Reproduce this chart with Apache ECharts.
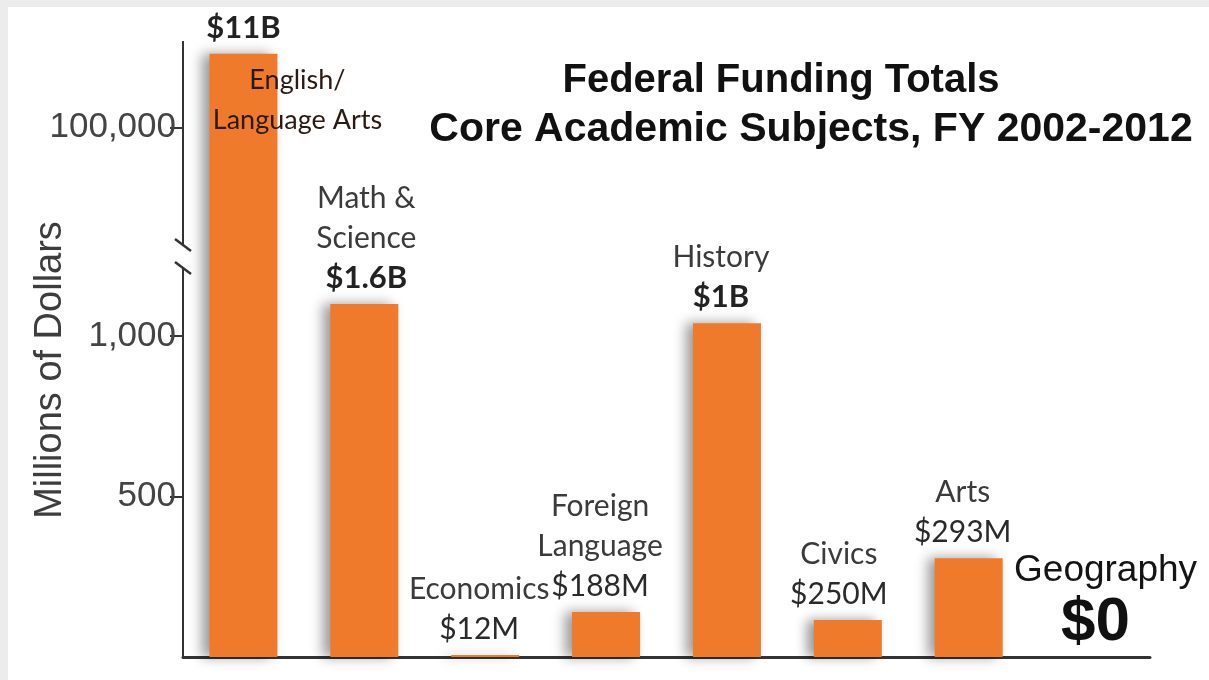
<!DOCTYPE html>
<html>
<head>
<meta charset="utf-8">
<script src="https://cdn.jsdelivr.net/npm/echarts@6/dist/echarts.min.js"></script>
<style>
  html, body { margin: 0; padding: 0; width: 1209px; height: 680px; overflow: hidden; background: #ececec; }
  #card { position: absolute; left: 8px; top: 7px; right: 0; bottom: 0; background: #ffffff; }
  #chart { position: absolute; left: 0; top: 0; width: 1209px; height: 680px; }
</style>
</head>
<body>
<div id="card"></div>
<div id="chart"></div>
<script>
// ---- data (millions of dollars) ----
const categories = ['English/Language Arts', 'Math & Science', 'Economics', 'Foreign Language', 'History', 'Civics', 'Arts', 'Geography'];
const labelNames = ['English/\nLanguage Arts', 'Math &\nScience', 'Economics', 'Foreign\nLanguage', 'History', 'Civics', 'Arts', 'Geography'];
const amountLabels = ['$11B', '$1.6B', '$12M', '$188M', '$1B', '$250M', '$293M', '$0'];
const barHeights = [100230, 1100, 6, 140, 1040, 115, 308, 0];
const yTickValues = [500, 1000, 100000];
const axisBreak = { start: 1200, end: 99650 };
const yMax = 100270;

// ---- styling / layout ----
const NARROW = "Lato, 'Liberation Sans', sans-serif";
const SANS = "'Liberation Sans', Arial, sans-serif";
const GRID = { left: 183, right: 59, top: 41, bottom: 23 };
const ORANGE = '#f07a2c';
const AXIS_COLOR = '#333333';

const chart = echarts.init(document.getElementById('chart'), null, { renderer: 'canvas' });

const labelDx = [0, 2, -6, -6, -6, -9, -6, 6];

const seriesData = barHeights.map((v, i) => ({
  value: v,
  label: { offset: [labelDx[i], 0] }
}));

function labelFormatter(p) {
  const i = p.dataIndex;
  if (i === 0) return '{v|' + amountLabels[0] + '}';
  if (i === categories.length - 1) {
    return '{g|' + labelNames[i] + '}\n{z|' + amountLabels[i] + '}';
  }
  const lines = labelNames[i].split('\n').map(s => '{n|' + s + '}');
  const key = amountLabels[i].endsWith('B') ? 'v' : 'm';
  lines.push('{' + key + '|' + amountLabels[i] + '}');
  return lines.join('\n');
}

const option = {
  backgroundColor: 'transparent',
  animation: false,
  title: [
    {
      text: 'Federal Funding Totals',
      left: 776, top: 54, textAlign: 'center',
      textStyle: { fontFamily: SANS, fontSize: 40, fontWeight: 'bold', color: '#111', lineHeight: 44 }
    },
    {
      text: 'Core Academic Subjects, FY 2002-2012',
      left: 806, top: 103, textAlign: 'center',
      textStyle: { fontFamily: SANS, fontSize: 41, fontWeight: 'bold', color: '#111', lineHeight: 44 }
    }
  ],
  grid: { left: GRID.left, right: GRID.right, top: GRID.top, bottom: GRID.bottom, containLabel: false },
  xAxis: {
    type: 'category',
    data: categories,
    axisLine: { show: true, lineStyle: { color: AXIS_COLOR, width: 3 } },
    axisTick: { show: false },
    axisLabel: { show: false },
    splitLine: { show: false }
  },
  yAxis: {
    type: 'value',
    min: 0,
    max: yMax,
    breaks: [{ start: axisBreak.start, end: axisBreak.end, gap: '5.2%' }],
    breakArea: { show: false },
    axisLine: { show: false },
    axisTick: { show: true, length: 13, customValues: yTickValues, lineStyle: { color: AXIS_COLOR, width: 2 } },
    axisLabel: {
      customValues: yTickValues,
      formatter: v => Number(v).toLocaleString('en-US'),
      margin: 7,
      fontFamily: SANS, fontSize: 35, color: '#444'
    },
    splitLine: { show: false },
    name: 'Millions of Dollars',
    nameLocation: 'middle',
    nameGap: 113,
    nameRotate: 90,
    nameMoveOverlap: false,
    nameTextStyle: { fontFamily: SANS, fontSize: 38, color: '#3d3d3d', padding: [0, 42, 0, 0] }
  },
  series: [{
    type: 'bar',
    data: seriesData,
    barWidth: 68,
    itemStyle: {
      color: ORANGE,
      shadowColor: 'rgba(0,0,0,0.4)',
      shadowBlur: 12,
      shadowOffsetX: -7,
      shadowOffsetY: 0
    },
    label: {
      show: true,
      position: 'top',
      distance: 6,
      formatter: labelFormatter,
      rich: {
        n: { fontFamily: NARROW, fontSize: 30, lineHeight: 40, color: '#3b3b3b' },
        v: { fontFamily: NARROW, fontSize: 31, fontWeight: 'bold', lineHeight: 40, color: '#222' },
        m: { fontFamily: NARROW, fontSize: 30, lineHeight: 40, color: '#2a2a2a' },
        g: { fontFamily: SANS, fontSize: 37, lineHeight: 48, color: '#141414', padding: [0, 0, 0, 20] },
        z: { fontFamily: SANS, fontSize: 62, fontWeight: 'bold', lineHeight: 56, color: '#111' }
      }
    }
  }]
};

chart.setOption(option);

// ---- broken y-axis line, break slashes and the in-bar English label ----
const yTop = chart.convertToPixel({ yAxisIndex: 0 }, yMax);
const yZero = chart.convertToPixel({ yAxisIndex: 0 }, 0);
const yBreakLow = chart.convertToPixel({ yAxisIndex: 0 }, axisBreak.start);
const yBreakHigh = chart.convertToPixel({ yAxisIndex: 0 }, axisBreak.end);
const ax = GRID.left;
const englishAnchor = chart.convertToPixel({ xAxisIndex: 0, yAxisIndex: 0 }, [0, 100000]);

function slash(cy) {
  return {
    type: 'line', silent: true, z: 50,
    shape: { x1: ax - 8, y1: cy - 6, x2: ax + 8, y2: cy + 6 },
    style: { stroke: AXIS_COLOR, lineWidth: 2.5 }
  };
}

chart.setOption({
  graphic: [
    { type: 'line', silent: true, z: 50, shape: { x1: ax, y1: yTop, x2: ax, y2: yBreakHigh + 4 }, style: { stroke: AXIS_COLOR, lineWidth: 2 } },
    { type: 'line', silent: true, z: 50, shape: { x1: ax, y1: yBreakLow - 4, x2: ax, y2: yZero }, style: { stroke: AXIS_COLOR, lineWidth: 2 } },
    slash(yBreakHigh + 5),
    slash(yBreakLow - 4),
    {
      type: 'text', silent: true, z: 100,
      x: englishAnchor[0] + 54, y: englishAnchor[1] - 27,
      style: {
        text: labelNames[0], fill: '#2b1a12',
        font: '27px ' + NARROW, lineHeight: 40,
        align: 'center', verticalAlign: 'middle'
      }
    }
  ]
});
</script>
</body>
</html>
